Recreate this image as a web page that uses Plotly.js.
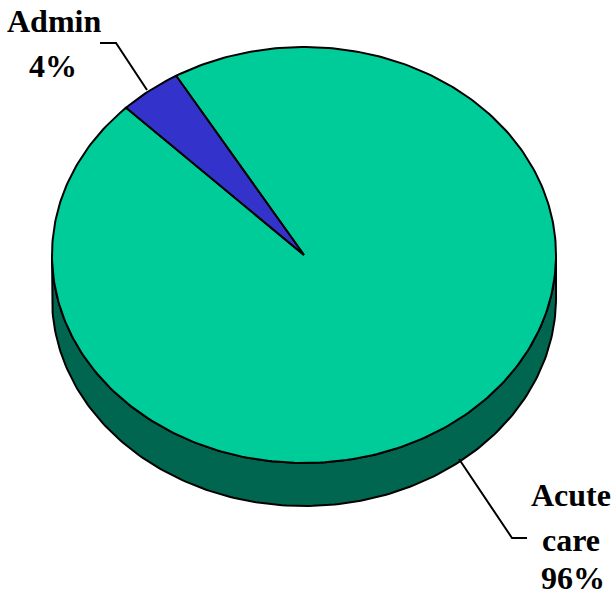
<!DOCTYPE html>
<html>
<head>
<meta charset="utf-8">
<script src="https://cdn.plot.ly/plotly-3.0.1.min.js"></script>
<style>html,body{margin:0;padding:0;background:#fff}#chart{width:614px;height:596px}</style>
</head>
<body>
<div id="chart"></div>
<script>
// Budget shares
var categories = ['Acute care', 'Admin'];
var shares = [96, 4];
var sliceColors = ['#00CC99', '#3333CC'];
var rimColor = '#006650';

// Tilted disc geometry, in the pixel-sized axis units of the plot
var cx = 304, cy = 255, rx = 252, ry = 208, depth = 43;
var startDeg = -30.5;

function rimPoint(deg) {
  var a = deg * Math.PI / 180;
  return [cx + rx * Math.sin(a), cy - ry * Math.cos(a)];
}

var total = shares.reduce(function (s, v) { return s + v; }, 0);
var traces = [];

// Side wall: lower half of the disc edge, extruded downward
var wallX = [], wallY = [], d;
for (d = 90; d <= 270; d += 1) { var p = rimPoint(d); wallX.push(p[0]); wallY.push(p[1]); }
for (d = 270; d >= 90; d -= 1) { var q = rimPoint(d); wallX.push(q[0]); wallY.push(q[1] + depth); }
wallX.push(wallX[0]); wallY.push(wallY[0]);
traces.push({x: wallX, y: wallY, mode: 'lines', fill: 'toself', fillcolor: rimColor,
  line: {color: '#000', width: 2}, hoverinfo: 'skip', showlegend: false});

// Top face, one wedge per category
var from = startDeg;
shares.forEach(function (v, i) {
  var sweep = v / total * 360, xs = [cx], ys = [cy];
  var steps = Math.max(2, Math.ceil(sweep));
  for (var k = 0; k <= steps; k++) {
    var pt = rimPoint(from + sweep * k / steps);
    xs.push(pt[0]); ys.push(pt[1]);
  }
  xs.push(cx); ys.push(cy);
  traces.push({x: xs, y: ys, mode: 'lines', fill: 'toself', fillcolor: sliceColors[i],
    line: {color: '#000', width: 2}, name: categories[i], hoverinfo: 'name', showlegend: false});
  from += sweep;
});

// Leader lines from the labels to the disc
var adminLeaderX = [100, 116, 147], adminLeaderY = [43, 43, 90];
var acuteLeaderX = [459, 512, 527], acuteLeaderY = [459, 538, 538];
[[adminLeaderX, adminLeaderY], [acuteLeaderX, acuteLeaderY]].forEach(function (l) {
  traces.push({x: l[0], y: l[1], mode: 'lines', line: {color: '#000', width: 2},
    hoverinfo: 'skip', showlegend: false});
});

// Label lines, stacked by hand for the wide leading
var labelLines = ['Admin', shares[1] + '%', 'Acute', 'care', shares[0] + '%'];
var labelX = [54, 53, 571, 571, 573];
var labelY = [21, 66, 495, 540, 578];
var annotations = labelLines.map(function (t, i) {
  return {text: t, x: labelX[i], y: labelY[i], xref: 'x', yref: 'y', showarrow: false,
    xanchor: 'center', yanchor: 'middle',
    font: {family: '"Liberation Serif", serif', size: 32, color: '#000', weight: 'bold'}};
});

var layout = {
  width: 614, height: 596,
  margin: {l: 0, r: 0, t: 0, b: 0},
  paper_bgcolor: '#fff', plot_bgcolor: '#fff',
  xaxis: {range: [0, 614], visible: false, fixedrange: true},
  yaxis: {range: [596, 0], visible: false, fixedrange: true},
  showlegend: false,
  annotations: annotations
};

Plotly.newPlot('chart', traces, layout, {displayModeBar: false, staticPlot: true});
</script>
</body>
</html>
